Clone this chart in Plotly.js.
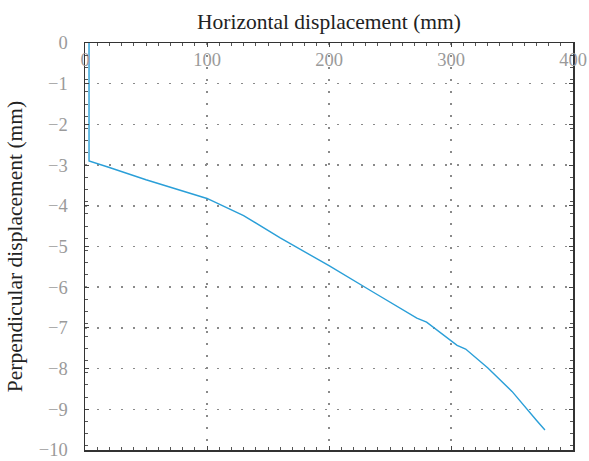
<!DOCTYPE html>
<html>
<head>
<meta charset="utf-8">
<script src="https://cdn.plot.ly/plotly-3.0.1.min.js"></script>
<style>
  html, body { margin: 0; padding: 0; background: #fff; }
  #chart { width: 589px; height: 461px; }
</style>
</head>
<body>
<div id="chart"></div>
<script>
// Displacement path (mm)
const horizontal = [3.3, 3.3, 20, 50, 100, 130, 160, 200, 235, 265, 272, 280, 290, 300, 305, 312, 330, 350, 362, 370, 377];
const perpendicular = [0, -2.9, -3.06, -3.36, -3.82, -4.24, -4.79, -5.47, -6.1, -6.64, -6.76, -6.86, -7.08, -7.3, -7.43, -7.52, -7.98, -8.56, -9.0, -9.27, -9.51];

const xTicks = [0, 100, 200, 300, 400];
const yTicks = [0, -1, -2, -3, -4, -5, -6, -7, -8, -9, -10];
const yTickText = ['0', '\u22121', '\u22122', '\u22123', '\u22124', '\u22125', '\u22126', '\u22127', '\u22128', '\u22129', '\u221210'];

const serif = 'Liberation Serif, DejaVu Serif, serif';

const trace = {
  x: horizontal,
  y: perpendicular,
  type: 'scatter',
  mode: 'lines',
  line: { color: '#2a9fd8', width: 1.4 },
  hoverinfo: 'skip'
};

const axisCommon = {
  showline: true,
  linecolor: '#333',
  linewidth: 1.5,
  mirror: 'ticks',
  ticks: 'inside',
  ticklen: 4,
  tickcolor: '#444',
  tickwidth: 1,
  zeroline: false,
  showgrid: true,
  gridcolor: '#8a8a8a',
  gridwidth: 1.5,
  griddash: '2px,10px',
  ticklabeloverflow: 'allow',
  tickfont: { family: serif, size: 18.5, color: '#9a9a9a' }
};

const layout = {
  width: 589,
  height: 461,
  margin: { l: 85, r: 16, t: 43, b: 11 },
  paper_bgcolor: '#fff',
  plot_bgcolor: '#fff',
  showlegend: false,
  xaxis: Object.assign({}, axisCommon, {
    side: 'top',
    range: [0, 400],
    tickvals: xTicks,
    ticktext: xTicks.map(String),
    ticklabelposition: 'inside',
    ticklabelstandoff: 7,
    minor: { dtick: 10, ticks: 'inside', ticklen: 3, tickcolor: '#555', showgrid: false },
    title: { text: 'Horizontal displacement (mm)', font: { family: serif, size: 21.5, color: '#222' }, standoff: 14 }
  }),
  yaxis: Object.assign({}, axisCommon, {
    range: [-10, 0],
    tickvals: yTicks,
    ticktext: yTickText,
    ticklabelstandoff: 12,
    minor: { dtick: 0.3, ticks: 'inside', ticklen: 3, tickcolor: '#555', showgrid: false },
    title: { text: 'Perpendicular displacement (mm)', font: { family: serif, size: 21.5, color: '#222' }, standoff: 10 }
  })
};

Plotly.newPlot('chart', [trace], layout, { displayModeBar: false, staticPlot: true });
</script>
</body>
</html>
